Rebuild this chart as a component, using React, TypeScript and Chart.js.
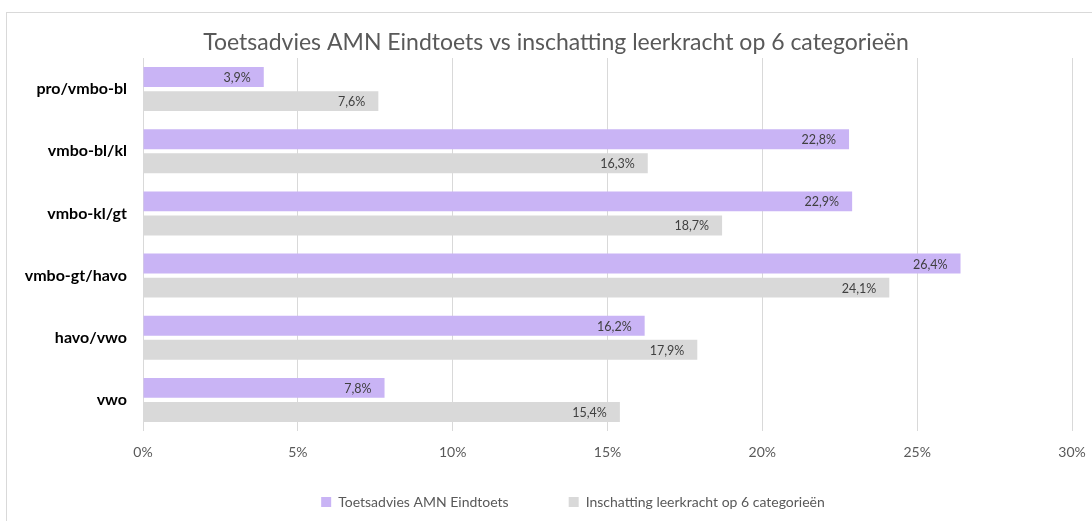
import React, { useEffect, useRef } from "react";
import { Chart, registerables } from "chart.js";

Chart.register(...registerables);

const categories = ["pro/vmbo-bl", "vmbo-bl/kl", "vmbo-kl/gt", "vmbo-gt/havo", "havo/vwo", "vwo"];
const toetsadvies = [3.9, 22.8, 22.9, 26.4, 16.2, 7.8];
const inschatting = [7.6, 16.3, 18.7, 24.1, 17.9, 15.4];
const seriesNames = ["Toetsadvies AMN Eindtoets", "Inschatting leerkracht op 6 categorieën"];
const titleText = "Toetsadvies AMN Eindtoets vs inschatting leerkracht op 6 categorieën";

const FONT = "Lato, 'Open Sans', sans-serif";

const borderPlugin = {
  id: "outerBorder",
  beforeDraw(chart: any) {
    const ctx = chart.ctx;
    ctx.save();
    ctx.fillStyle = "#ffffff";
    ctx.fillRect(0, 0, chart.width, chart.height);
    ctx.strokeStyle = "#d9d9d9";
    ctx.lineWidth = 1;
    ctx.strokeRect(6.5, 12.5, 1110, 530);
    ctx.restore();
  },
};

const centerPlugin = {
  id: "centerShift",
  afterLayout(chart: any) {
    const t = chart.titleBlock;
    if (t) {
      const d = 556 - (t.left + t.right) / 2;
      t.left += d;
      t.right += d;
    }
    const l = chart.legend;
    if (l) {
      const d = 573 - (l.left + l.right) / 2;
      l.left += d;
      l.right += d;
    }
    const x = chart.scales.x;
    if (x) {
      // let the tick labels below the plot area be fully visible
      x.bottom = x.top + 40;
      x.height = 40;
    }
  },
};

const labelPlugin = {
  id: "barLabels",
  afterDatasetsDraw(chart: any) {
    const ctx = chart.ctx;
    ctx.save();
    ctx.font = `12.5px ${FONT}`;
    ctx.fillStyle = "#404040";
    ctx.textAlign = "right";
    ctx.textBaseline = "middle";
    chart.data.datasets.forEach((ds: any, di: number) => {
      const meta = chart.getDatasetMeta(di);
      meta.data.forEach((bar: any, i: number) => {
        const v = ds.data[i] as number;
        const txt = v.toFixed(1).replace(".", ",") + "%";
        ctx.fillText(txt, bar.x - 13, bar.y + 1);
      });
    });
    ctx.restore();
  },
};

export default function App() {
  const ref = useRef<HTMLCanvasElement | null>(null);
  useEffect(() => {
    if (!ref.current) return;
    const chart = new Chart(ref.current, {
      type: "bar",
      data: {
        labels: categories,
        datasets: [
          {
            label: seriesNames[0],
            data: toetsadvies,
            backgroundColor: "#c9b4f5",
            categoryPercentage: 0.774,
            barPercentage: 0.83,
          },
          {
            label: seriesNames[1],
            data: inschatting,
            backgroundColor: "#d9d9d9",
            categoryPercentage: 0.774,
            barPercentage: 0.83,
          },
        ],
      },
      options: {
        indexAxis: "y",
        animation: false,
        responsive: false,
        maintainAspectRatio: false,
        layout: { padding: { left: 0, right: 20, top: 0, bottom: 2 } },
        scales: {
          x: {
            min: 0,
            max: 30,
            ticks: {
              stepSize: 5,
              callback: (v: any) => v + "%",
              color: "#595959",
              font: { family: FONT, size: 14 },
              padding: 0,
            },
            grid: { color: "#d9d9d9", drawTicks: true, tickLength: 13, tickColor: "rgba(0,0,0,0)" },
            border: { display: false },
            afterFit: (s: any) => {
              s.height = 4;
            },
          },
          y: {
            ticks: {
              color: "#000000",
              font: { family: FONT, size: 16, weight: "bold" },
              padding: 16,
            },
            grid: { display: false, drawTicks: false },
            border: { display: false },
            afterFit: (s: any) => {
              s.width = 143;
            },
          },
        },
        plugins: {
          title: {
            display: true,
            text: titleText,
            color: "#595959",
            font: { family: FONT, size: 23, weight: "normal" },
            padding: { top: 29, bottom: 1.4 },
          },
          legend: {
            position: "bottom",
            labels: {
              boxWidth: 10,
              boxHeight: 10,
              color: "#595959",
              font: { family: FONT, size: 14 },
              padding: 60,
            },
          },
          tooltip: { enabled: false },
        },
      },
      plugins: [borderPlugin, centerPlugin, labelPlugin],
    });
    return () => chart.destroy();
  }, []);
  return (
    <div style={{ position: "fixed", left: 0, top: 0, width: 1092, height: 521 }}>
      <canvas ref={ref} width={1092} height={521} style={{ display: "block" }} />
    </div>
  );
}
